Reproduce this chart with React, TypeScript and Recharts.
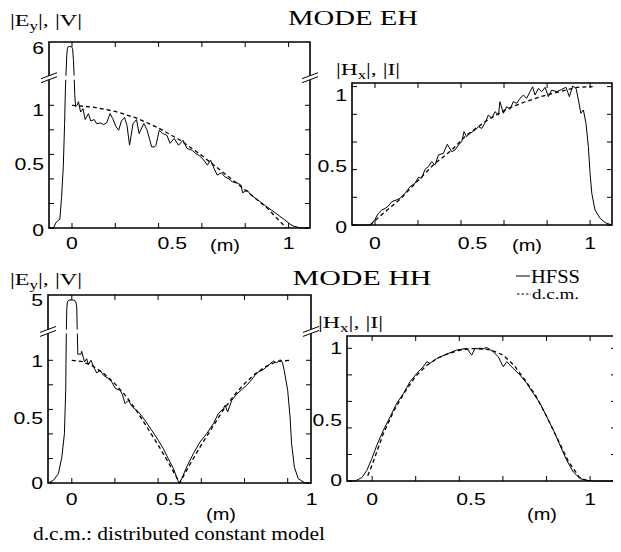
import React from 'react';
import { LineChart, Line, XAxis, YAxis } from 'recharts';

const FONT_SANS = '"Liberation Sans", Arial, Helvetica, sans-serif';
const FONT_SERIF = '"Liberation Serif", "Times New Roman", serif';

type P = [number, number];

// ---------- data (x in m, y normalised) ----------
const EH_E_HFSS: P[] = [
  [-0.106, 0], [-0.085, 0], [-0.075, 0.04], [-0.065, 0.06], [-0.056, 0.07], [-0.048, 0.25], [-0.04, 0.5],
  [-0.034, 0.85], [-0.03, 1.15], [-0.027, 2.5], [-0.024, 4.8], [-0.021, 5.8], [-0.017, 6.05], [-0.01, 6.08],
  [-0.003, 6.05], [0.003, 5.8], [0.007, 4.0], [0.01, 1.8], [0.013, 1.08], [0.017, 0.99], [0.024, 1.0],
  [0.03, 1.03], [0.04, 0.945], [0.051, 0.973], [0.061, 0.884], [0.076, 0.932], [0.087, 0.872], [0.103, 0.884],
  [0.114, 0.851], [0.134, 0.856], [0.145, 0.843], [0.16, 0.856], [0.176, 0.932], [0.188, 0.892], [0.204, 0.824],
  [0.216, 0.797], [0.228, 0.872], [0.243, 0.9], [0.254, 0.837], [0.266, 0.675], [0.282, 0.851], [0.298, 0.884],
  [0.31, 0.77], [0.332, 0.851], [0.347, 0.797], [0.368, 0.661], [0.38, 0.66], [0.388, 0.675], [0.403, 0.797],
  [0.419, 0.77], [0.438, 0.756], [0.453, 0.69], [0.472, 0.73], [0.492, 0.675], [0.513, 0.715], [0.531, 0.648],
  [0.555, 0.634], [0.57, 0.607], [0.586, 0.593], [0.609, 0.553], [0.625, 0.512], [0.64, 0.553], [0.656, 0.485],
  [0.671, 0.431], [0.69, 0.45], [0.706, 0.417], [0.721, 0.404], [0.741, 0.376], [0.762, 0.368], [0.78, 0.35],
  [0.788, 0.287], [0.808, 0.309], [0.827, 0.268], [0.858, 0.228], [0.889, 0.187], [0.921, 0.146], [0.952, 0.106],
  [0.983, 0.065], [1.006, 0.033], [1.022, 0.016], [1.045, 0.005], [1.06, 0], [1.099, 0],
];
const EH_E_DCM: P[] = [
  [0, 1.0], [0.1, 0.985], [0.2, 0.95], [0.3, 0.895], [0.4, 0.815], [0.5, 0.715], [0.6, 0.59], [0.7, 0.45],
  [0.8, 0.31], [0.9, 0.165], [0.99, 0.0],
];
const EH_H_HFSS: P[] = [
  [-0.107, 0], [-0.02, 0], [0, 0.041], [0.016, 0.085], [0.031, 0.108], [0.047, 0.12], [0.062, 0.137], [0.078, 0.169],
  [0.1, 0.181], [0.116, 0.193], [0.14, 0.229], [0.163, 0.277], [0.186, 0.301], [0.202, 0.345], [0.217, 0.338],
  [0.233, 0.403], [0.248, 0.422], [0.264, 0.458], [0.279, 0.434], [0.295, 0.506], [0.318, 0.518], [0.336, 0.583],
  [0.357, 0.53], [0.372, 0.542], [0.388, 0.578], [0.403, 0.602], [0.414, 0.675], [0.426, 0.638], [0.442, 0.662],
  [0.465, 0.686], [0.481, 0.71], [0.496, 0.698], [0.512, 0.739], [0.527, 0.795], [0.543, 0.771], [0.558, 0.819],
  [0.574, 0.795], [0.581, 0.891], [0.597, 0.807], [0.612, 0.855], [0.628, 0.836], [0.643, 0.891], [0.659, 0.879],
  [0.674, 0.915], [0.69, 0.939], [0.705, 0.915], [0.721, 0.963], [0.733, 0.999], [0.744, 0.939], [0.76, 0.987],
  [0.775, 0.963], [0.791, 0.995], [0.806, 0.927], [0.822, 0.975], [0.845, 0.963], [0.868, 0.98], [0.888, 0.995],
  [0.904, 0.927], [0.919, 1.004], [0.935, 0.987], [0.946, 0.903], [0.957, 0.807], [0.969, 0.831], [0.981, 0.734],
  [0.992, 0.566], [1.0, 0.373], [1.008, 0.229], [1.023, 0.108], [1.047, 0.048], [1.07, 0.017], [1.102, 0],
];
const EH_H_DCM: P[] = [
  [-0.023, 0], [0.039, 0.085], [0.116, 0.186], [0.271, 0.434], [0.357, 0.542], [0.426, 0.65], [0.535, 0.771],
  [0.62, 0.843], [0.7, 0.891], [0.78, 0.932], [0.86, 0.963], [0.94, 0.995], [1.012, 1.0],
];
const HH_E_HFSS: P[] = [
  [-0.11, 0], [-0.085, 0.022], [-0.062, 0.076], [-0.046, 0.21], [-0.034, 0.402], [-0.028, 0.755], [-0.026, 1.1],
  [-0.025, 1.5], [-0.023, 4.0], [-0.02, 4.8], [-0.013, 5.0], [0.007, 5.0], [0.018, 4.85], [0.023, 4.3],
  [0.025, 2.0], [0.026, 1.22], [0.028, 1.05], [0.043, 1.05], [0.046, 1.073], [0.059, 0.986], [0.069, 1.013],
  [0.077, 0.967], [0.089, 1.0], [0.105, 0.932], [0.116, 0.897], [0.131, 0.918], [0.147, 0.878], [0.17, 0.851],
  [0.185, 0.824], [0.203, 0.769], [0.224, 0.756], [0.234, 0.723], [0.247, 0.647], [0.262, 0.674], [0.281, 0.62],
  [0.309, 0.579], [0.339, 0.511], [0.37, 0.43], [0.401, 0.348], [0.424, 0.28], [0.447, 0.198], [0.471, 0.117],
  [0.491, 0.022], [0.497, 0], [0.509, 0.035], [0.532, 0.13], [0.563, 0.239], [0.594, 0.334], [0.625, 0.402],
  [0.656, 0.484], [0.679, 0.565], [0.702, 0.606], [0.71, 0.633], [0.722, 0.579], [0.741, 0.674], [0.764, 0.723],
  [0.787, 0.761], [0.81, 0.796], [0.833, 0.842], [0.849, 0.878], [0.864, 0.905], [0.887, 0.924], [0.91, 0.959],
  [0.934, 0.994], [0.949, 0.978], [0.964, 1.005], [0.975, 0.986], [0.984, 0.918], [1.0, 0.755], [1.011, 0.538],
  [1.018, 0.321], [1.031, 0.13], [1.049, 0.035], [1.08, 0], [1.108, 0],
];
const HH_E_DCM: P[] = [
  [0, 1.0], [0.05, 0.99], [0.1, 0.95], [0.15, 0.89], [0.2, 0.81], [0.25, 0.71], [0.3, 0.59], [0.35, 0.45],
  [0.4, 0.31], [0.45, 0.16], [0.5, 0], [0.55, 0.16], [0.6, 0.31], [0.65, 0.45], [0.7, 0.59], [0.75, 0.71],
  [0.8, 0.81], [0.85, 0.89], [0.9, 0.95], [0.95, 0.99], [1.01, 1.0],
];
const HH_H_HFSS: P[] = [
  [-0.115, 0], [-0.078, 0], [-0.047, 0.025], [-0.024, 0.08], [-0.001, 0.169], [0.022, 0.27], [0.052, 0.383],
  [0.083, 0.484], [0.113, 0.585], [0.144, 0.66], [0.174, 0.748], [0.205, 0.811], [0.235, 0.862], [0.251, 0.899],
  [0.266, 0.887], [0.297, 0.924], [0.343, 0.957], [0.388, 0.987], [0.434, 1.0], [0.457, 0.949], [0.472, 1.0],
  [0.503, 0.992], [0.526, 1.007], [0.556, 0.974], [0.579, 0.936], [0.602, 0.861], [0.618, 0.899], [0.648, 0.848],
  [0.679, 0.798], [0.71, 0.735], [0.74, 0.66], [0.771, 0.585], [0.801, 0.484], [0.832, 0.383], [0.862, 0.27],
  [0.893, 0.156], [0.923, 0.068], [0.954, 0.018], [0.985, 0.005], [1.015, 0], [1.119, 0],
];
const HH_H_DCM: P[] = [
  [-0.02, 0.04], [0, 0.12], [0.05, 0.35], [0.1, 0.53], [0.15, 0.67], [0.2, 0.79], [0.25, 0.87], [0.3, 0.925],
  [0.35, 0.96], [0.4, 0.985], [0.45, 0.997], [0.5, 1.0], [0.55, 0.985], [0.6, 0.95], [0.65, 0.875], [0.7, 0.765],
  [0.75, 0.645], [0.8, 0.49], [0.85, 0.32], [0.9, 0.15], [0.95, 0.03], [0.99, 0],
];

const MINOR_TICKS = [0, 0.2, 0.4, 0.6, 0.8, 1];
const X_LABELS = [0, 0.5, 1];
const Y_LABELS = [0, 0.5, 1];
const EH_E_PEAK = 6;
const HH_E_PEAK = 5;

// ---------- layout ----------
type Brk = { from: number; peak: number; peakDisp: number };
type PanelCfg = {
  box: { l: number; t: number; r: number; b: number };
  xDomain: [number, number];
  yDomain: [number, number];
  brk?: Brk;
  hfss: P[];
  dcm: P[];
  xLabelDy: number;
  xLabelDx: Record<string, number>;
  yLabelDy: Record<string, number>;
};

const brkMap = (y: number, b?: Brk) =>
  !b || y <= b.from ? y : b.from + ((y - b.from) * (b.peakDisp - b.from)) / (b.peak - b.from);

const PANELS: PanelCfg[] = [
  {
    box: { l: 49, t: 42, r: 310, b: 228 }, xDomain: [-0.106, 1.099], yDomain: [0, 1.516],
    brk: { from: 1.21, peak: EH_E_PEAK, peakDisp: 1.475 }, hfss: EH_E_HFSS, dcm: EH_E_DCM,
    xLabelDy: 21, xLabelDx: { '0.5': -8 }, yLabelDy: { '1': 5, '0.5': -3, '0': 2, peak: 1 },
  },
  {
    box: { l: 352, t: 83, r: 612, b: 225 }, xDomain: [-0.107, 1.102], yDomain: [0, 1.026],
    hfss: EH_H_HFSS, dcm: EH_H_DCM, xLabelDy: 24, xLabelDx: { '0.5': -10 },
    yLabelDy: { '1': 8, '0.5': 10, '0': 2 },
  },
  {
    box: { l: 48, t: 295, r: 311, b: 483 }, xDomain: [-0.11, 1.108], yDomain: [0, 1.532],
    brk: { from: 1.22, peak: HH_E_PEAK, peakDisp: 1.491 }, hfss: HH_E_HFSS, dcm: HH_E_DCM,
    xLabelDy: 22, xLabelDx: { '0.5': -9, '1': 24 }, yLabelDy: { '1': 1, '0.5': -4, '0': 0, peak: 0 },
  },
  {
    box: { l: 347, t: 336, r: 616, b: 481 }, xDomain: [-0.115, 1.119], yDomain: [0, 1.093],
    hfss: HH_H_HFSS, dcm: HH_H_DCM, xLabelDy: 24, xLabelDx: { '0.5': -10 },
    yLabelDy: { '1': 0, '0.5': 5, '0': -1 },
  },
];

const ML = 45, MR = 12, MT = 10, MB = 40;
const TICK_FS = 17;
const TICK_LEN = 5;
const charW = (c: string) => (c === '.' ? 0.278 : 0.556);
const labelLen = (s: string) => s.split('').reduce((a, c) => a + charW(c), 0) * TICK_FS * 1.25;
const fmt = (v: number) => String(Math.round(v * 100) / 100);

function PanelChart({ p }: { p: PanelCfg }) {
  const w = p.box.r - p.box.l + ML + MR;
  const h = p.box.b - p.box.t + MT + MB;
  const hfss = p.hfss.map(([x, y]) => ({ x, y: brkMap(y, p.brk) }));
  const dcm = p.dcm.map(([x, y]) => ({ x, y: brkMap(y, p.brk) }));
  const peakDisp = p.brk ? brkMap(p.brk.peak, p.brk) : null;
  const yLabelTicks = peakDisp != null ? [...Y_LABELS, peakDisp] : Y_LABELS;

  const BottomTick = (props: any) => {
    const v = props.payload.value;
    const s = fmt(v);
    const dx = p.xLabelDx[String(v)] ?? 0;
    return (
      <text x={props.x + dx} y={props.y + p.xLabelDy} textAnchor="middle" fontFamily={FONT_SANS} fontSize={TICK_FS}
        fill="#000" textLength={labelLen(s)} lengthAdjust="spacingAndGlyphs">{s}</text>
    );
  };
  const LeftTick = (props: any) => {
    const v = props.payload.value;
    const isPeak = peakDisp != null && v === peakDisp;
    const s = isPeak ? String(p.brk!.peak) : fmt(v);
    const dy = (isPeak ? p.yLabelDy.peak : p.yLabelDy[s]) ?? 0;
    return (
      <text x={props.x - 5} y={props.y + 6 + dy} textAnchor="end" fontFamily={FONT_SANS} fontSize={TICK_FS}
        fill="#000" textLength={labelLen(s)} lengthAdjust="spacingAndGlyphs">{s}</text>
    );
  };

  return (
    <div style={{ position: 'absolute', left: p.box.l - ML, top: p.box.t - MT }}>
      <LineChart width={w} height={h} margin={{ top: MT, right: MR, bottom: MB - 1, left: ML - 1 }}>
        <XAxis xAxisId="b" type="number" dataKey="x" domain={p.xDomain} ticks={X_LABELS}
          interval={0} tick={BottomTick} tickSize={0} tickMargin={0} height={1} axisLine={false} tickLine={false} />
        <YAxis yAxisId="l" type="number" domain={p.yDomain} ticks={yLabelTicks} interval={0}
          tick={LeftTick} tickSize={0} tickMargin={0} width={1} axisLine={false} tickLine={false} />
        <Line xAxisId="b" yAxisId="l" data={dcm} dataKey="y" type="linear" dot={false} stroke="#000"
          strokeWidth={1.3} strokeDasharray="4 3" isAnimationActive={false} />
        <Line xAxisId="b" yAxisId="l" data={hfss} dataKey="y" type="linear" dot={false} stroke="#000"
          strokeWidth={1} isAnimationActive={false} />
      </LineChart>
    </div>
  );
}

// path strings for the box frame and its inward ticks (matlab style)
function framePath(p: PanelCfg) {
  const { l, t, r, b } = p.box;
  return `M${l} ${t}L${r} ${t}L${r} ${b}L${l} ${b}Z`;
}
function ticksPath(p: PanelCfg) {
  const { l, t, r, b } = p.box;
  const [x0, x1] = p.xDomain;
  const [y0, y1] = p.yDomain;
  const px = (v: number) => l + ((v - x0) / (x1 - x0)) * (r - l);
  const py = (v: number) => b - ((v - y0) / (y1 - y0)) * (b - t);
  return MINOR_TICKS.map((v) => {
    const X = px(v).toFixed(1);
    const Y = py(v).toFixed(1);
    return `M${X} ${b}L${X} ${b - TICK_LEN}M${X} ${t}L${X} ${t + TICK_LEN}` +
      `M${l} ${Y}L${l + TICK_LEN} ${Y}M${r} ${Y}L${r - TICK_LEN} ${Y}`;
  }).join('');
}

function breakGeom(p: PanelCfg) {
  const pxPer = (p.box.b - p.box.t) / (p.yDomain[1] - p.yDomain[0]);
  return p.box.b - (p.brk!.from + 0.015) * pxPer;
}

const YTitle = ({ x, y, main, sub, rest, len }: any) => (
  <text x={x} y={y} fontFamily={FONT_SERIF} fontSize={17} fill="#000" textLength={len} lengthAdjust="spacingAndGlyphs">
    {main}<tspan fontSize={12} dy={4}>{sub}</tspan><tspan dy={-4}>{rest}</tspan>
  </text>
);

const Stretch = ({ x, y, len, fs, family, anchor, children }: any) => (
  <text x={x} y={y} fontFamily={family} fontSize={fs} fill="#000" textAnchor={anchor || 'start'}
    textLength={len} lengthAdjust="spacingAndGlyphs">{children}</text>
);

export default function App() {
  return (
    <div style={{ position: 'relative', width: 621, height: 552, margin: '-8px 0 0 -8px', background: '#fff', overflow: 'hidden' }}>
      {PANELS.map((p, i) => <PanelChart key={i} p={p} />)}
      <svg width={621} height={552} style={{ position: 'absolute', left: 0, top: 0, pointerEvents: 'none', zIndex: 5 }}>
        {PANELS.map((p, i) => (
          <path key={`f${i}`} d={framePath(p)} fill="none" stroke="#000" strokeWidth={1.6} />
        ))}
        {PANELS.map((p, i) => (
          <path key={`t${i}`} d={ticksPath(p)} fill="none" stroke="#000" strokeWidth={1} />
        ))}
        {PANELS.filter((p) => p.brk).map((p, i) => {
          const yb = breakGeom(p);
          const mk = (bx: number) =>
            `M${bx - 8} ${yb + 1}L${bx + 8} ${yb - 5}M${bx - 8} ${yb + 5}L${bx + 8} ${yb - 1}`;
          const wp = (bx: number) =>
            `M${bx - 8} ${yb + 1}L${bx + 8} ${yb - 5}L${bx + 8} ${yb - 1}L${bx - 8} ${yb + 5}Z`;
          return (
            <g key={`b${i}`}>
              <path d={`M${p.box.l + 2} ${yb - 2}L${p.box.r - 2} ${yb - 2}L${p.box.r - 2} ${yb + 2}L${p.box.l + 2} ${yb + 2}Z`} fill="#fff" />
              <path d={wp(p.box.l) + wp(p.box.r)} fill="#fff" />
              <path d={mk(p.box.l) + mk(p.box.r)} fill="none" stroke="#000" strokeWidth={1} />
            </g>
          );
        })}
        <Stretch x={353} y={25} len={130} fs={20} family={FONT_SERIF} anchor="middle">MODE EH</Stretch>
        <Stretch x={362} y={285} len={139} fs={20} family={FONT_SERIF} anchor="middle">MODE HH</Stretch>
        <YTitle x={10} y={26} main="|E" sub="y" rest="|, |V|" len={72} />
        <YTitle x={336} y={75} main="|H" sub="x" rest="|, |I|" len={64} />
        <YTitle x={10} y={285} main="|E" sub="y" rest="|, |V|" len={72} />
        <YTitle x={318} y={328} main="|H" sub="x" rest="|, |I|" len={65} />
        <Stretch x={225} y={251} len={30} fs={TICK_FS} family={FONT_SANS} anchor="middle">(m)</Stretch>
        <Stretch x={527} y={251} len={30} fs={TICK_FS} family={FONT_SANS} anchor="middle">(m)</Stretch>
        <Stretch x={221} y={520} len={30} fs={TICK_FS} family={FONT_SANS} anchor="middle">(m)</Stretch>
        <Stretch x={542} y={520} len={30} fs={TICK_FS} family={FONT_SANS} anchor="middle">(m)</Stretch>
        <path d="M516 276L530 276" stroke="#000" strokeWidth={1} />
        <Stretch x={531} y={283} len={49} fs={18} family={FONT_SERIF}>HFSS</Stretch>
        <path d="M517 294L531 294" stroke="#000" strokeWidth={1} strokeDasharray="2.5 2" />
        <Stretch x={532} y={299} len={47} fs={15} family={FONT_SERIF}>d.c.m.</Stretch>
        <Stretch x={33} y={540} len={292} fs={18} family={FONT_SERIF}>d.c.m.: distributed constant model</Stretch>
      </svg>
    </div>
  );
}
